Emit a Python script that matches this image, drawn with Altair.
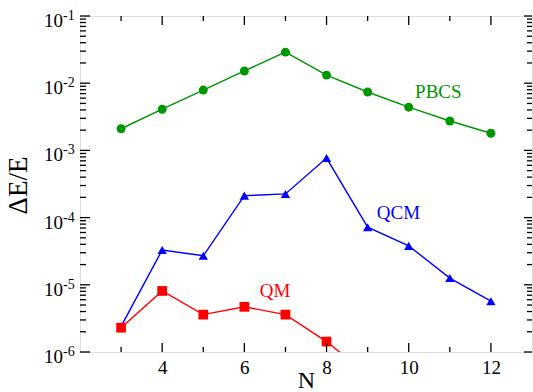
import altair as alt
import pandas as pd

N = [3, 4, 5, 6, 7, 8, 9, 10, 11, 12]
pbcs = [2.1e-3, 4.1e-3, 7.9e-3, 1.52e-2, 2.9e-2, 1.32e-2, 7.4e-3, 4.4e-3, 2.74e-3, 1.8e-3]
qcm = [2.4e-6, 3.3e-5, 2.7e-5, 2.12e-4, 2.25e-4, 7.7e-4, 7.2e-5, 3.8e-5, 1.26e-5, 5.7e-6]
qm_N = [3, 4, 5, 6, 7, 8, 9]
qm = [2.3e-6, 8.1e-6, 3.6e-6, 4.7e-6, 3.6e-6, 1.43e-6, 4.6e-7]

series = ["PBCS", "QCM", "QM"]
colors = ["#009600", "#0000ff", "#ff0000"]
shapes = ["circle", "triangle-up", "square"]

label_text = ["PBCS", "QCM", "QM"]
label_N = [10.72, 9.75, 6.75]
label_val = [7.4e-3, 1.17e-4, 8.1e-6]

y_major = [1e-6, 1e-5, 1e-4, 1e-3, 1e-2, 1e-1]
y_exp = ["-6", "-5", "-4", "-3", "-2", "-1"]
y_minor = [k * 10.0 ** e for e in range(-6, -1) for k in range(2, 10)]
x_major = [4, 6, 8, 10, 12]
x_minor = [3, 5, 7, 9, 11]

W, H = 452, 336
FONT = "'Liberation Serif', 'Times New Roman', serif"

rows = []
for n, v in zip(N, pbcs):
    rows.append({"N": n, "v": v, "s": "PBCS"})
for n, v in zip(N, qcm):
    rows.append({"N": n, "v": v, "s": "QCM"})
for n, v in zip(qm_N, qm):
    rows.append({"N": n, "v": v, "s": "QM"})
df = pd.DataFrame(rows)

xs = alt.Scale(domain=[2, 13], nice=False, zero=False)
ys = alt.Scale(type="log", domain=[1e-6, 1e-1], nice=False)
cs = alt.Scale(domain=series, range=colors)
ss = alt.Scale(domain=series, range=shapes)

xaxis = alt.Axis(values=x_major, ticks=False, domain=False, grid=False,
                 labelFont=FONT, labelFontSize=19, labelColor="black", labelPadding=6,
                 title="N", titleFont=FONT, titleFontSize=24, titleFontWeight="normal",
                 titleColor="black", titleY=35, titleBaseline="alphabetic")
yaxis = alt.Axis(values=y_major, ticks=False, domain=False, grid=False, labels=False,
                 title="ΔE/E", titleFont=FONT, titleFontSize=27, titleFontWeight="normal",
                 titleColor="black", titleX=-62, titleY=169, titleBaseline="middle")

base = alt.Chart(df)
lines = base.mark_line(strokeWidth=1.4, clip=True).encode(
    x=alt.X("N:Q", scale=xs, axis=xaxis),
    y=alt.Y("v:Q", scale=ys, axis=yaxis),
    color=alt.Color("s:N", scale=cs, legend=None),
    detail="s:N",
)
points = base.mark_point(filled=True, opacity=1, clip=True).encode(
    x=alt.X("N:Q", scale=xs),
    y=alt.Y("v:Q", scale=ys),
    color=alt.Color("s:N", scale=cs, legend=None),
    shape=alt.Shape("s:N", scale=ss, legend=None),
    size=alt.Size("s:N", scale=alt.Scale(domain=series, range=[80, 95, 64]), legend=None),
)

ldf = pd.DataFrame({"t": label_text, "N": label_N, "v": label_val, "s": label_text})
labels = alt.Chart(ldf).mark_text(font=FONT, fontSize=19, align="center", baseline="middle").encode(
    x=alt.X("N:Q", scale=xs), y=alt.Y("v:Q", scale=ys), text="t:N",
    color=alt.Color("s:N", scale=cs, legend=None),
)

ymaj = pd.DataFrame({"v": y_major, "e": y_exp})
ymin = pd.DataFrame({"v": y_minor})
xmaj = pd.DataFrame({"n": x_major})
xmin = pd.DataFrame({"n": x_minor})

def yticks(d, x0, x1):
    return alt.Chart(d).mark_rule(color="black", strokeWidth=1.3).encode(
        y=alt.Y("v:Q", scale=ys), x=alt.value(x0), x2=alt.value(x1))

def xticks(d, y0, y1):
    return alt.Chart(d).mark_rule(color="black", strokeWidth=1.3).encode(
        x=alt.X("n:Q", scale=xs), y=alt.value(y0), y2=alt.value(y1))

ticks = [
    yticks(ymaj, 0, 10), yticks(ymin, 0, 6),
    yticks(ymaj, W, W - 8), yticks(ymin, W, W - 5),
    xticks(xmaj, H, H - 9), xticks(xmin, H, H - 5),
    xticks(xmaj, 0, 9), xticks(xmin, 0, 5),
]

ylab10 = alt.Chart(ymaj).mark_text(font=FONT, fontSize=19, align="right", baseline="middle", dy=5, color="black").encode(
    y=alt.Y("v:Q", scale=ys), x=alt.value(-17), text=alt.value("10"))
ylabexp = alt.Chart(ymaj).mark_text(font=FONT, fontSize=14, align="left", baseline="middle", dy=0, color="black").encode(
    y=alt.Y("v:Q", scale=ys), x=alt.value(-17), text="e:N")

chart = alt.layer(lines, points, labels, *ticks, ylab10, ylabexp).properties(
    width=W, height=H,
    autosize=alt.AutoSizeParams(type="none"),
    padding={"left": 80, "top": 16, "right": 1, "bottom": 40},
).configure_view(stroke="black", strokeWidth=2).configure(background="white")

chart.save("out.html", embed_options={"renderer": "svg", "actions": False})
